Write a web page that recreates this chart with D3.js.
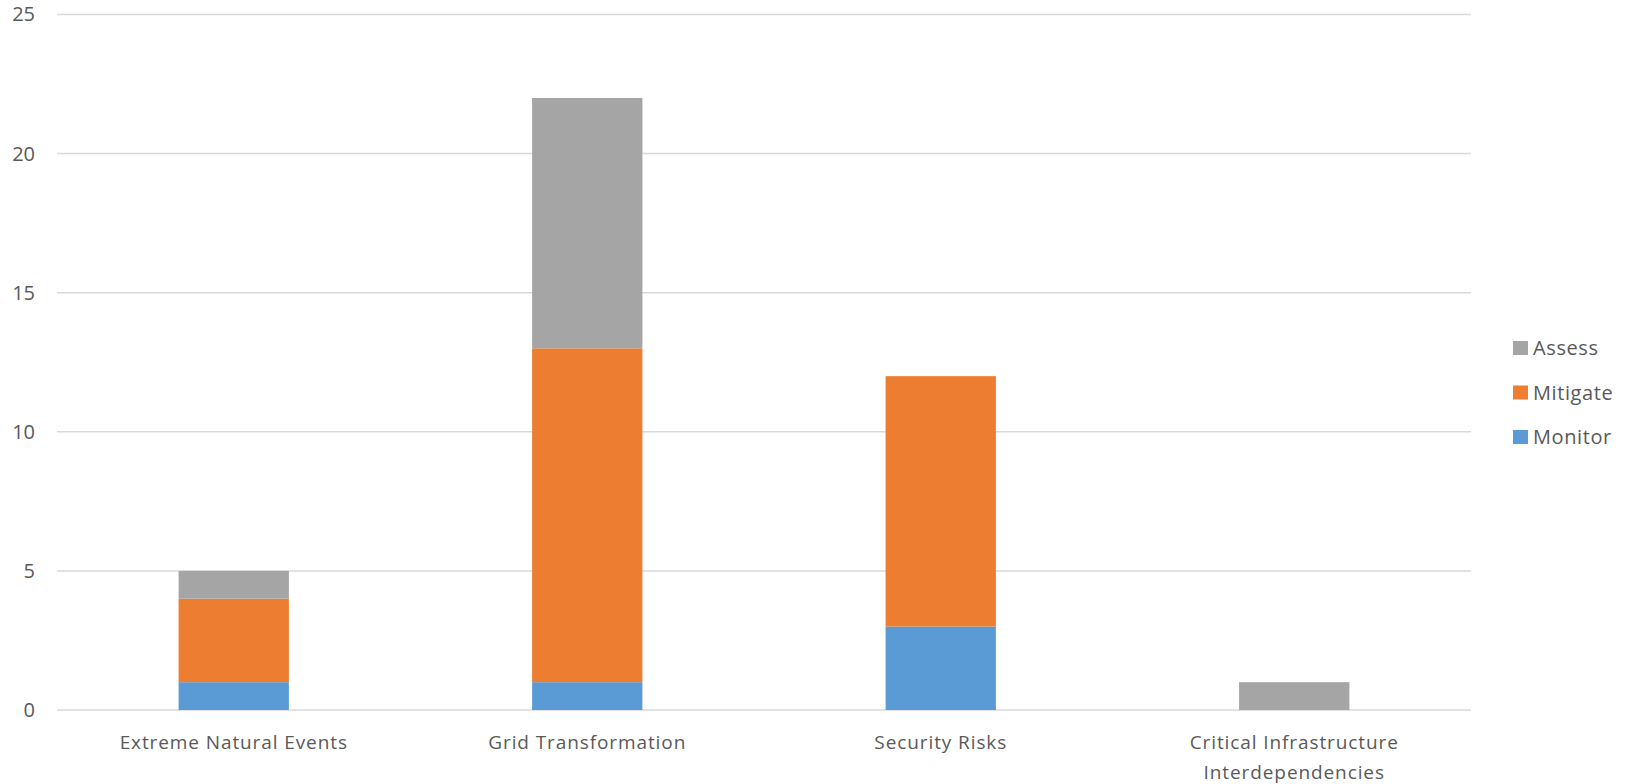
<!DOCTYPE html>
<html>
<head>
<meta charset="utf-8">
<script src="https://cdn.jsdelivr.net/npm/d3@7"></script>
<style>
  html, body { margin: 0; padding: 0; background: #fff; }
  svg text { font-family: "Open Sans", sans-serif; fill: #595959; }
</style>
</head>
<body>
<svg id="chart" width="1628" height="784"></svg>
<script>
// Categories and stacked series values
const categories = ["Extreme Natural Events", "Grid Transformation", "Security Risks", "Critical Infrastructure Interdependencies"];
const categoryLines = [["Extreme Natural Events"], ["Grid Transformation"], ["Security Risks"], ["Critical Infrastructure", "Interdependencies"]];
const seriesNames = ["Monitor", "Mitigate", "Assess"];
const monitor = [1, 1, 3, 0];
const mitigate = [3, 12, 9, 0];
const assess = [1, 9, 0, 1];
const yTicks = [0, 5, 10, 15, 20, 25];
const colors = { Monitor: "#5b9bd5", Mitigate: "#ed7d31", Assess: "#a5a5a5" };

const rows = categories.map((c, i) => ({ category: c, Monitor: monitor[i], Mitigate: mitigate[i], Assess: assess[i] }));
const stacked = d3.stack().keys(seriesNames)(rows);

const svg = d3.select("#chart");
const plot = { left: 57, right: 1471, top: 14.5, bottom: 710 };

const x = d3.scaleBand().domain(categories).range([plot.left, plot.right]).paddingInner(0.688).paddingOuter(0.344);
const y = d3.scaleLinear().domain([0, 25]).range([plot.bottom, plot.top]);

// Horizontal gridlines
svg.append("g").selectAll("line").data(yTicks).join("line")
  .attr("x1", plot.left).attr("x2", plot.right)
  .attr("y1", d => y(d)).attr("y2", d => y(d))
  .attr("stroke", "#d9d9d9").attr("stroke-width", 1.5);

// Y axis labels
const yAxis = d3.axisLeft(y).tickValues(yTicks).tickSize(0).tickPadding(0);
const gy = svg.append("g").attr("transform", "translate(35,0)").call(yAxis);
gy.select(".domain").remove();
gy.selectAll("text").style("font-size", "20px").attr("fill", "#595959")
  .style("font-family", "'Open Sans', sans-serif");

// Stacked bars
svg.append("g").selectAll("g").data(stacked).join("g")
  .attr("fill", d => colors[d.key])
  .selectAll("rect").data(d => d.filter(s => s[1] - s[0] > 0)).join("rect")
  .attr("x", d => x(d.data.category))
  .attr("width", x.bandwidth())
  .attr("y", d => y(d[1]))
  .attr("height", d => y(d[0]) - y(d[1]));

// Category labels
const xl = svg.append("g").selectAll("text").data(categories).join("text")
  .attr("x", d => x(d) + x.bandwidth() / 2)
  .attr("y", 749)
  .attr("text-anchor", "middle")
  .style("font-size", "19px")
  .style("letter-spacing", "0.9px");
xl.each(function(d, i) {
  const t = d3.select(this);
  categoryLines[i].forEach((line, k) => {
    t.append("tspan").attr("x", x(d) + x.bandwidth() / 2).attr("dy", k === 0 ? 0 : 30).text(line);
  });
});

// Legend
const legendItems = ["Assess", "Mitigate", "Monitor"];
const legend = svg.append("g").selectAll("g").data(legendItems).join("g")
  .attr("transform", (d, i) => `translate(1513, ${348 + i * 44.5})`);
legend.append("rect").attr("x", 0).attr("y", -7).attr("width", 15).attr("height", 14).attr("fill", d => colors[d]);
legend.append("text").attr("x", 20).attr("y", 0).attr("dy", "0.36em")
  .style("font-size", "20px").style("letter-spacing", "0.6px").text(d => d);
</script>
</body>
</html>
